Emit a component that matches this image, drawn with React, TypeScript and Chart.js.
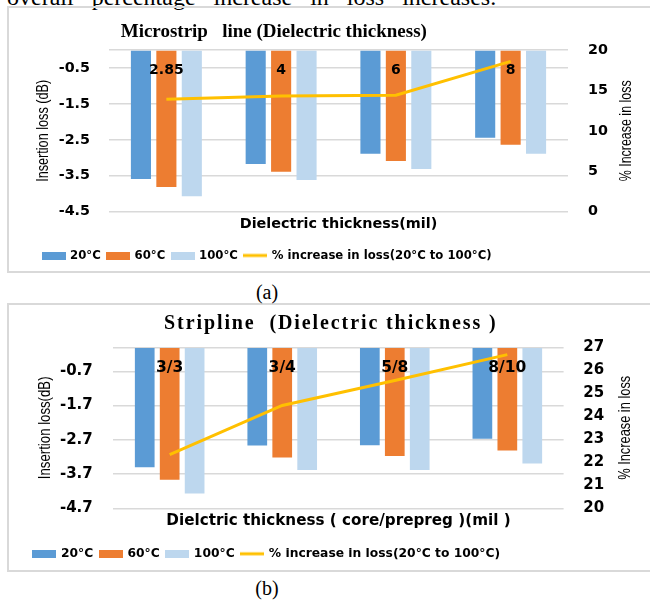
import React, { useEffect, useRef } from 'react';
import { Chart, registerables } from 'chart.js';

Chart.register(...registerables);

const BLUE = '#5B9BD5';
const ORANGE = '#ED7D31';
const LIGHT = '#BDD7EE';
const GOLD = '#FFC000';
const GRID = '#D9D9D9';

const seriesLabels = ['20°C', '60°C', '100°C', '% increase in loss(20°C to 100°C)'];

// (a) Microstrip line
const microCategories = ['2.85', '4', '6', '8'];
const micro20 = [-3.59, -3.17, -2.89, -2.44];
const micro60 = [-3.81, -3.39, -3.09, -2.64];
const micro100 = [-4.07, -3.62, -3.31, -2.89];
const microPct = [13.9, 14.3, 14.4, 18.6];
const microLeftTicks = [-4.5, -3.5, -2.5, -1.5, -0.5, 0];
const microRightTicks = [0, 5, 10, 15, 20];

// (b) Stripline
const stripCategories = ['3/3', '3/4', '5/8', '8/10'];
const strip20 = [-3.5, -2.87, -2.86, -2.67];
const strip60 = [-3.87, -3.22, -3.17, -3.01];
const strip100 = [-4.27, -3.58, -3.58, -3.39];
const stripPct = [22.33, 24.47, 25.56, 26.68];
const stripLeftTicks = [-4.7, -3.7, -2.7, -1.7, -0.7, 0];
const stripRightTicks = [20, 21, 22, 23, 24, 25, 26, 27];

const SANS = '"Liberation Sans", Arial, sans-serif';
const BOLD_SANS = '"DejaVu Sans", Verdana, sans-serif';
const SERIF = '"Liberation Serif", "Times New Roman", serif';

function legendSwatch(color: string, line = false) {
  const c = document.createElement('canvas');
  c.width = 24;
  c.height = 8;
  const g = c.getContext('2d')!;
  g.fillStyle = color;
  if (line) g.fillRect(0, 2.5, 24, 3);
  else g.fillRect(0, 0, 24, 8);
  return c;
}

type Spec = {
  width: number; height: number;
  plotLeft: number; plotRight: number; plotTop: number; padBottom: number;
  title: string; titleFont: number; titleSpacing: number; titleX: number; titleY: number;
  categories: string[]; s20: number[]; s60: number[]; s100: number[]; pct: number[];
  leftTicks: number[]; rightTicks: number[];
  leftTitle: string; rightTitle: string; xTitle: string;
  catFont: number; catY: number;
  tickFont: number; tickPadL: number; tickPadR: number;
  vTitleFont: number; leftTitleLen: number; rightTitleLen: number; leftTitleX: number; rightTitleX: number;
  xTitleFont: number; xTitlePad: number;
  legendFont: number; legendPad: number; legendCX: number; legendCY: number;
};

const specA: Spec = {
  width: 642, height: 264,
  plotLeft: 101, plotRight: 560, plotTop: 42, padBottom: 7.6,
  title: 'Microstrip   line (Dielectric thickness)', titleFont: 19, titleSpacing: 0, titleX: 265.8, titleY: 24,
  categories: microCategories, s20: micro20, s60: micro60, s100: micro100, pct: microPct,
  leftTicks: microLeftTicks, rightTicks: microRightTicks,
  leftTitle: 'Insertion loss (dB)', rightTitle: '% Increase in loss', xTitle: 'Dielectric thickness(mil)',
  catFont: 14, catY: 62,
  tickFont: 14.3, tickPadL: 19, tickPadR: 20,
  vTitleFont: 16.5, leftTitleLen: 102, rightTitleLen: 101, leftTitleX: 35.5, rightTitleX: 618.7,
  xTitleFont: 14.4, xTitlePad: 2.9,
  legendFont: 11.7, legendPad: 7, legendCX: 259.4, legendCY: 247.5,
};

const specB: Spec = {
  width: 642, height: 266,
  plotLeft: 105.4, plotRight: 555.6, plotTop: 42.3, padBottom: 9.4,
  title: 'Stripline  (Dielectric thickness )', titleFont: 20, titleSpacing: 1.9, titleX: 322.8, titleY: 18.8,
  categories: stripCategories, s20: strip20, s60: strip60, s100: strip100, pct: stripPct,
  leftTicks: stripLeftTicks, rightTicks: stripRightTicks,
  leftTitle: 'Insertion loss(dB)', rightTitle: '% Increase in loss', xTitle: 'Dielctric thickness ( core/prepreg )(mil )',
  catFont: 15.5, catY: 63.3,
  tickFont: 15, tickPadL: 20.7, tickPadR: 19.7,
  vTitleFont: 17, leftTitleLen: 102.7, rightTitleLen: 104, leftTitleX: 37, rightTitleX: 617,
  xTitleFont: 15.2, xTitlePad: 1.9,
  legendFont: 12.3, legendPad: 7, legendCX: 259, legendCY: 248.8,
};

function drawVTitle(ctx: CanvasRenderingContext2D, text: string, x: number, y: number, size: number, len: number) {
  ctx.save();
  ctx.font = `${size}px ${SANS}`;
  const w = ctx.measureText(text).width || len;
  ctx.translate(x, y);
  ctx.rotate(-Math.PI / 2);
  ctx.scale(len / w, 1);
  ctx.fillStyle = '#000';
  ctx.textAlign = 'center';
  ctx.textBaseline = 'middle';
  ctx.fillText(text, 0, 0);
  ctx.restore();
}

function ChartPanel({ spec, left, top }: { spec: Spec; left: number; top: number }) {
  const ref = useRef<HTMLCanvasElement | null>(null);
  useEffect(() => {
    const s = spec;
    const swatches = [legendSwatch(BLUE), legendSwatch(ORANGE), legendSwatch(LIGHT), legendSwatch(GOLD, true)];
    const decor = {
      id: 'decor',
      afterLayout(chart: any) {
        const lg = chart.legend;
        if (!lg) return;
        const w = lg.right - lg.left;
        const h = lg.bottom - lg.top;
        lg.left = s.legendCX - w / 2;
        lg.right = lg.left + w;
        lg.top = s.legendCY - s.legendPad - s.legendFont / 2;
        lg.bottom = lg.top + h;
      },
      afterDraw(chart: any) {
        const ctx = chart.ctx as CanvasRenderingContext2D;
        const xs = chart.scales.x;
        const ys = chart.scales.y;
        const y2 = chart.scales.y2;
        ctx.save();
        ctx.fillStyle = '#000';
        ctx.textAlign = 'center';
        ctx.textBaseline = 'middle';
        ctx.font = `bold ${s.titleFont}px ${SERIF}`;
        (ctx as any).letterSpacing = `${s.titleSpacing}px`;
        ctx.fillText(s.title, s.titleX, s.titleY);
        (ctx as any).letterSpacing = '0px';
        ctx.font = `bold ${s.catFont}px ${BOLD_SANS}`;
        s.categories.forEach((c, i) => ctx.fillText(c, xs.getPixelForValue(i), s.catY));
        ctx.restore();
        drawVTitle(ctx, s.leftTitle, s.leftTitleX, (ys.top + ys.bottom) / 2, s.vTitleFont, s.leftTitleLen);
        drawVTitle(ctx, s.rightTitle, s.rightTitleX, (y2.top + y2.bottom) / 2, s.vTitleFont, s.rightTitleLen);
      },
    };
    const barDs = (label: string, data: number[], color: string) => ({
      type: 'bar' as const,
      label,
      data,
      backgroundColor: color,
      borderWidth: 0,
      categoryPercentage: 0.665,
      barPercentage: 0.79,
      yAxisID: 'y',
      order: 1,
    });
    const chart = new Chart(ref.current!, {
      type: 'bar',
      data: {
        labels: s.categories,
        datasets: [
          barDs(seriesLabels[0], s.s20, BLUE),
          barDs(seriesLabels[1], s.s60, ORANGE),
          barDs(seriesLabels[2], s.s100, LIGHT),
          {
            type: 'line' as const,
            label: seriesLabels[3],
            data: s.pct,
            borderColor: GOLD,
            backgroundColor: GOLD,
            borderWidth: 3,
            pointRadius: 0,
            tension: 0,
            yAxisID: 'y2',
            order: 0,
          } as any,
        ],
      },
      options: {
        responsive: false,
        animation: false,
        layout: { padding: { left: 0, right: 0, top: s.plotTop, bottom: s.padBottom } },
        plugins: {
          title: { display: false },
          tooltip: { enabled: false },
          legend: {
            position: 'bottom',
            labels: {
              usePointStyle: true,
              pointStyleWidth: 21,
              padding: s.legendPad,
              color: '#000',
              font: { family: BOLD_SANS, weight: 'bold', size: s.legendFont },
              generateLabels: (chart: any) =>
                chart.data.datasets.map((ds: any, i: number) => ({
                  text: ds.label,
                  pointStyle: swatches[i],
                  fillStyle: 'transparent',
                  strokeStyle: 'transparent',
                  lineWidth: 0,
                  hidden: false,
                  datasetIndex: i,
                  fontColor: '#000',
                })),
            },
          },
        },
        scales: {
          x: {
            type: 'category',
            grid: { display: false },
            border: { display: false },
            ticks: { display: false },
            title: {
              display: true,
              text: s.xTitle,
              color: '#000',
              font: { family: BOLD_SANS, weight: 'bold', size: s.xTitleFont },
              padding: { top: 0, bottom: s.xTitlePad },
            },
            afterFit: (sc: any) => { sc.height = 24; },
          },
          y: {
            position: 'left',
            min: s.leftTicks[0],
            max: s.leftTicks[s.leftTicks.length - 1],
            afterBuildTicks: (sc: any) => { sc.ticks = s.leftTicks.map((v) => ({ value: v })); },
            grid: { color: GRID, lineWidth: 1.5, drawTicks: false },
            border: { display: false },
            ticks: {
              padding: s.tickPadL,
              color: '#000',
              font: { family: BOLD_SANS, weight: 'bold', size: s.tickFont },
              callback: (v: any) => (Number(v) === 0 ? '' : String(v)),
            },
            afterFit: (sc: any) => { sc.width = s.plotLeft; },
          },
          y2: {
            position: 'right',
            min: s.rightTicks[0],
            max: s.rightTicks[s.rightTicks.length - 1],
            afterBuildTicks: (sc: any) => { sc.ticks = s.rightTicks.map((v) => ({ value: v })); },
            grid: { display: false, drawTicks: false },
            border: { display: false },
            ticks: {
              padding: s.tickPadR,
              color: '#000',
              font: { family: BOLD_SANS, weight: 'bold', size: s.tickFont },
              callback: (v: any) => String(v),
            },
            afterFit: (sc: any) => { sc.width = s.width - s.plotRight; },
          },
        },
      } as any,
      plugins: [decor],
    });
    return () => chart.destroy();
  }, [spec]);
  return (
    <canvas
      ref={ref}
      width={spec.width}
      height={spec.height}
      style={{ position: 'absolute', left, top, width: spec.width, height: spec.height }}
    />
  );
}

export default function App() {
  const frame = (top: number, height: number) => ({
    position: 'absolute' as const,
    left: 7,
    top,
    width: 700,
    height,
    boxSizing: 'border-box' as const,
    borderTop: `2px solid ${GRID}`,
    borderLeft: `2px solid ${GRID}`,
    borderBottom: `2px solid ${GRID}`,
  });
  const caption = (top: number) => ({
    position: 'absolute' as const,
    left: 217,
    top,
    width: 100,
    textAlign: 'center' as const,
    fontFamily: SERIF,
    fontSize: 20,
    lineHeight: '20px',
    color: '#000',
  });
  return (
    <div
      style={{
        position: 'absolute',
        left: 0,
        top: 0,
        width: 650,
        height: 601,
        overflow: 'hidden',
        background: '#fff',
      }}
    >
      <div
        style={{
          position: 'absolute',
          left: 7,
          top: -15.6,
          fontFamily: SERIF,
          fontSize: 24,
          lineHeight: '26px',
          whiteSpace: 'nowrap',
          wordSpacing: 12,
          color: '#000',
        }}
      >
        overall percentage increase in loss increases.
      </div>
      <div style={frame(6, 267)} />
      <div style={frame(303, 269)} />
      <ChartPanel spec={specA} left={8} top={8} />
      <ChartPanel spec={specB} left={8} top={305} />
      <div style={caption(282)}>(a)</div>
      <div style={caption(577.5)}>(b)</div>
    </div>
  );
}
